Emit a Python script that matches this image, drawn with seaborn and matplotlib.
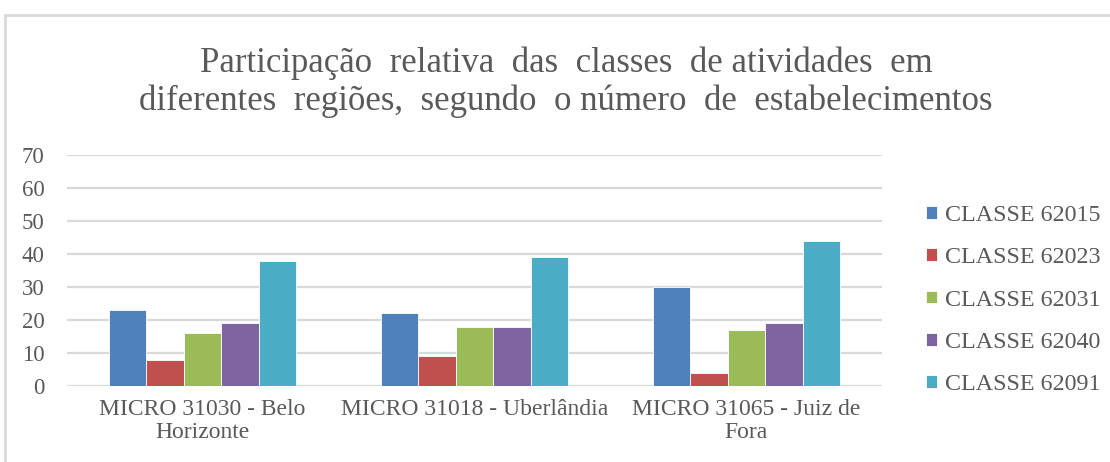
import matplotlib
matplotlib.use("Agg")
import matplotlib.pyplot as plt
import seaborn as sns
import pandas as pd
from matplotlib.patches import Rectangle

regions = ["MICRO 31030 - Belo\nHorizonte", "MICRO 31018 - Uberlândia", "MICRO 31065 - Juiz de\nFora"]
classes = ["CLASSE 62015", "CLASSE 62023", "CLASSE 62031", "CLASSE 62040", "CLASSE 62091"]
c62015 = [23, 22, 30]
c62023 = [8, 9, 4]
c62031 = [16, 18, 17]
c62040 = [19, 18, 19]
c62091 = [38, 39, 44]
colors = ["#4F81BD", "#C0504D", "#9BBB59", "#8064A2", "#4BACC6"]
yticks = [0, 10, 20, 30, 40, 50, 60, 70]

series = [c62015, c62023, c62031, c62040, c62091]
rows = []
for cls, vals in zip(classes, series):
    for reg, v in zip(regions, vals):
        rows.append({"Região": reg, "Classe": cls, "Valor": v})
df = pd.DataFrame(rows)

sns.set_theme(style="white")
plt.rcParams['font.family'] = ['Liberation Serif', 'DejaVu Serif']
text_color = "#595959"

fig = plt.figure(figsize=(11.1, 4.62), dpi=100)
ax = fig.add_axes([0.060, 0.1645, 0.735, 0.5])

sns.barplot(data=df, x="Região", y="Valor", hue="Classe", hue_order=classes,
            order=regions, palette=colors, width=0.69, gap=0, ax=ax,
            edgecolor="white", linewidth=0.6, saturation=1, legend=True)

ax.set_ylim(0, 70)
ax.set_yticks(yticks)
ax.set_xlim(-0.5, 2.5)
ax.yaxis.grid(True, color="#D9D9D9", linewidth=1.6)
ax.set_axisbelow(True)
for s in ax.spines.values():
    s.set_visible(False)
ax.set_xlabel("")
ax.set_ylabel("")
ax.tick_params(axis="both", length=0, colors=text_color)
ax.tick_params(axis="y", pad=16)
ax.tick_params(axis="x", pad=9)
for lbl in ax.get_xticklabels():
    lbl.set_fontsize(17)
    lbl.set_linespacing(1.15)
for lbl in ax.get_yticklabels():
    lbl.set_fontsize(16.5)

leg = ax.legend(loc="center left", bbox_to_anchor=(1.027, 0.372), frameon=False,
                fontsize=17.3, handlelength=0.45, handleheight=0.45,
                handletextpad=0.35, labelspacing=0.89)
for t in leg.get_texts():
    t.set_color(text_color)

fig.text(0.51, 0.822,
         "Participação  relativa  das  classes  de atividades  em\ndiferentes  regiões,  segundo  o número  de  estabelecimentos",
         ha="center", va="center", fontsize=25, color=text_color, linespacing=1.18)

fig.patches.append(Rectangle((5/1110, -0.1), 1.2, 1 - 15/462 + 0.1,
                             transform=fig.transFigure, fill=False,
                             edgecolor="#D9D9D9", linewidth=2))

fig.savefig("out.png", dpi=100)
